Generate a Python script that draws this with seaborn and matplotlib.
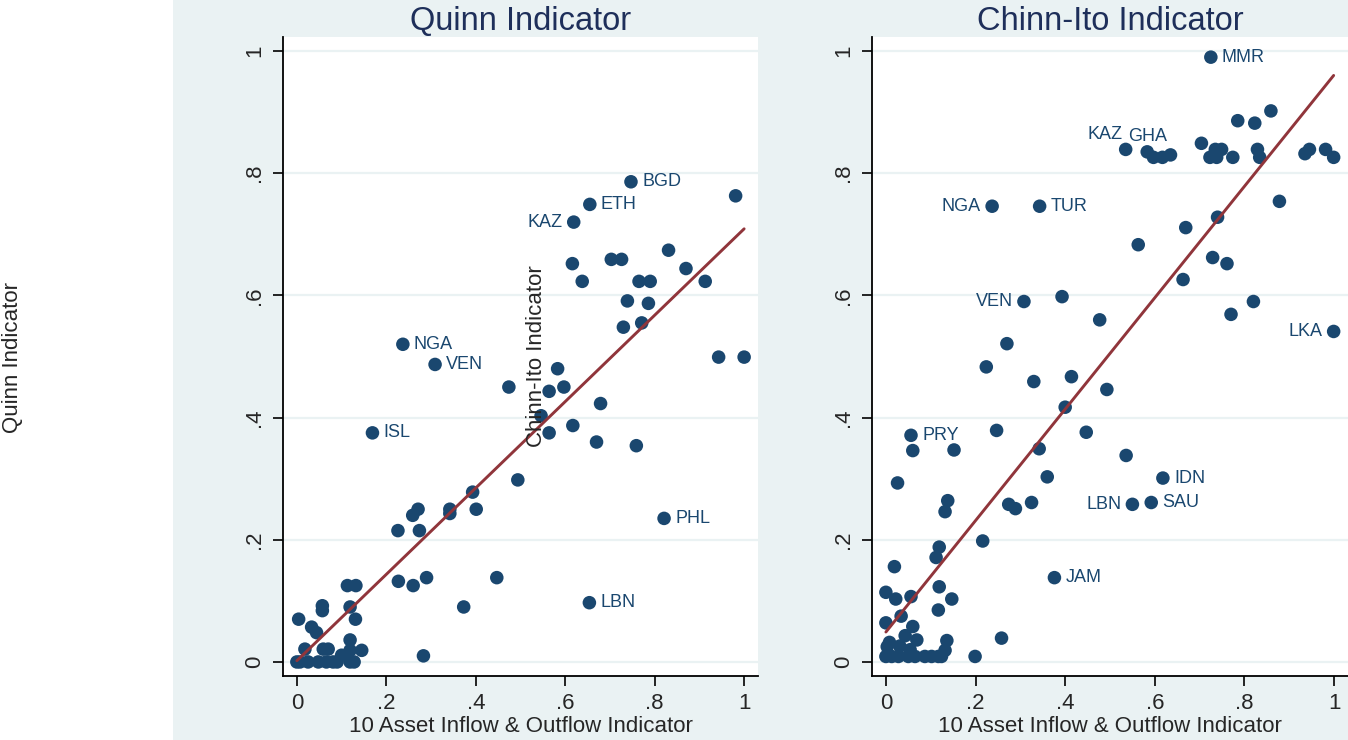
import numpy as np
import pandas as pd
import seaborn as sns
import matplotlib.pyplot as plt
from matplotlib.patches import Rectangle

# Quinn indicator vs 10 asset indicator (left panel)
quinn_x = [0.747, 0.981, 0.655, 0.619, 0.616, 0.638, 0.703, 0.726, 0.831, 0.870,
           0.765, 0.790, 0.913, 0.739, 0.786, 0.730, 0.771, 0.237, 0.309, 0.943,
           1.000, 0.583, 0.474, 0.564, 0.597, 0.679, 0.546, 0.169, 0.564, 0.617,
           0.670, 0.759, 0.494, 0.393, 0.401, 0.342, 0.342, 0.271, 0.259, 0.226,
           0.274, 0.821, 0.227, 0.260, 0.290, 0.447, 0.113, 0.132, 0.654, 0.373,
           0.057, 0.057, 0.119, 0.004, 0.131, 0.033, 0.044, 0.119, 0.283, 0.018,
           0.059, 0.070, 0.100, 0.119, 0.145, 0.000, 0.007, 0.025, 0.048, 0.066,
           0.081, 0.090, 0.119, 0.128]
quinn_y = [0.786, 0.763, 0.749, 0.720, 0.652, 0.623, 0.659, 0.659, 0.674, 0.644,
           0.623, 0.623, 0.623, 0.591, 0.587, 0.548, 0.555, 0.520, 0.487, 0.499,
           0.499, 0.480, 0.450, 0.443, 0.450, 0.423, 0.403, 0.375, 0.375, 0.387,
           0.360, 0.354, 0.298, 0.278, 0.250, 0.250, 0.243, 0.250, 0.240, 0.215,
           0.215, 0.235, 0.132, 0.125, 0.138, 0.138, 0.125, 0.125, 0.097, 0.090,
           0.092, 0.084, 0.090, 0.070, 0.070, 0.057, 0.048, 0.036, 0.010, 0.021,
           0.021, 0.021, 0.011, 0.019, 0.019, 0.000, 0.000, 0.000, 0.000, 0.000,
           0.000, 0.000, 0.000, 0.000]
quinn_labels = {0: 'BGD', 2: 'ETH', 3: 'KAZ', 17: 'NGA', 18: 'VEN', 27: 'ISL',
                41: 'PHL', 48: 'LBN'}
# fitted line (intercept, slope)
quinn_fit = (0.002, 0.707)

# Chinn-Ito indicator vs 10 asset indicator (right panel)
chinn_x = [0.725, 0.859, 0.785, 0.823, 0.535, 0.583, 0.597, 0.617, 0.635, 0.704,
           0.735, 0.749, 0.723, 0.738, 0.774, 0.829, 0.834, 0.935, 0.945, 0.981,
           0.999, 0.237, 0.343, 0.878, 0.740, 0.669, 0.563, 0.729, 0.761, 0.663,
           0.308, 0.393, 0.820, 0.770, 0.477, 0.999, 0.270, 0.224, 0.330, 0.414,
           0.493, 0.400, 0.056, 0.247, 0.447, 0.060, 0.152, 0.342, 0.536, 0.360,
           0.618, 0.026, 0.138, 0.132, 0.274, 0.289, 0.325, 0.550, 0.592, 0.216,
           0.119, 0.112, 0.019, 0.376, 0.119, 0.000, 0.022, 0.056, 0.147, 0.117,
           0.034, 0.000, 0.060, 0.043, 0.069, 0.136, 0.258, 0.008, 0.003, 0.031,
           0.054, 0.132, 0.199, 0.000, 0.013, 0.028, 0.050, 0.065, 0.087, 0.102,
           0.117, 0.124]
chinn_y = [0.990, 0.902, 0.886, 0.882, 0.839, 0.835, 0.826, 0.826, 0.830, 0.849,
           0.839, 0.839, 0.826, 0.826, 0.826, 0.839, 0.826, 0.832, 0.839, 0.839,
           0.826, 0.746, 0.746, 0.754, 0.728, 0.711, 0.683, 0.662, 0.652, 0.626,
           0.590, 0.598, 0.590, 0.569, 0.560, 0.541, 0.521, 0.483, 0.459, 0.467,
           0.446, 0.417, 0.371, 0.379, 0.376, 0.346, 0.347, 0.349, 0.338, 0.303,
           0.301, 0.293, 0.264, 0.246, 0.258, 0.251, 0.261, 0.258, 0.261, 0.198,
           0.188, 0.171, 0.156, 0.138, 0.123, 0.114, 0.103, 0.107, 0.103, 0.085,
           0.075, 0.064, 0.058, 0.043, 0.036, 0.035, 0.039, 0.032, 0.025, 0.026,
           0.020, 0.019, 0.009, 0.009, 0.009, 0.009, 0.009, 0.009, 0.009, 0.009,
           0.009, 0.009]
chinn_labels = {0: 'MMR', 4: 'KAZ', 5: 'GHA', 21: 'NGA', 22: 'TUR', 30: 'VEN',
                35: 'LKA', 42: 'PRY', 50: 'IDN', 57: 'LBN', 58: 'SAU', 63: 'JAM'}
chinn_fit = (0.049, 0.912)

ticks = [0, 0.2, 0.4, 0.6, 0.8, 1]
tick_labels = ['0', '.2', '.4', '.6', '.8', '1']

# where each label sits relative to its marker (offset in points, ha, va)
right_of = ((8, 0), 'left', 'center')
left_of = ((-8, 0), 'right', 'center')
label_place = {
    ('q', 'KAZ'): left_of,
    ('c', 'NGA'): left_of, ('c', 'VEN'): left_of, ('c', 'LKA'): left_of,
    ('c', 'LBN'): left_of,
    ('c', 'KAZ'): ((-2, 11), 'right', 'center'),
    ('c', 'GHA'): ((0, 11), 'center', 'center'),
}

navy = '#1a476f'
title_col = '#1e2f5a'
bg = '#eaf2f3'

sns.set_style('white')
plt.rcParams['font.family'] = ['Liberation Sans', 'DejaVu Sans']

fig = plt.figure(figsize=(13.48, 7.40), dpi=100)
fig.patches.append(Rectangle((173 / 1348, 0), 1, 1, transform=fig.transFigure,
                             facecolor=bg, edgecolor='none', zorder=-10))

ax1 = fig.add_axes([283 / 1348, 64 / 740, 475 / 1348, 639 / 740])
ax2 = fig.add_axes([872 / 1348, 64 / 740, 476 / 1348, 639 / 740])

panels = [(ax1, 'q', quinn_x, quinn_y, quinn_labels, quinn_fit, 'Quinn Indicator'),
          (ax2, 'c', chinn_x, chinn_y, chinn_labels, chinn_fit, 'Chinn-Ito Indicator')]

for ax, key, xs, ys, labs, fit, title in panels:
    df = pd.DataFrame({'x': xs, 'y': ys})
    ax.set_facecolor('white')
    for t in ticks:
        ax.axhline(t, color=bg, lw=1.6, zorder=0)
    sns.scatterplot(data=df, x='x', y='y', ax=ax, color=navy, s=95,
                    edgecolor='none', zorder=3)
    # fitted values over the range of the data
    xr = np.array([min(xs), max(xs)])
    fit_df = pd.DataFrame({'x': xr, 'y': fit[0] + fit[1] * xr})
    sns.lineplot(data=fit_df, x='x', y='y', ax=ax, color='#90353b', lw=2.1,
                 zorder=4)
    for i, name in labs.items():
        off, ha, va = label_place.get((key, name), right_of)
        ax.annotate(name, (xs[i], ys[i]), xytext=off, textcoords='offset points',
                    ha=ha, va=va, fontsize=13, color=navy, zorder=5)
    ax.set_xlim(-0.031, 1.031)
    ax.set_ylim(-0.023, 1.023)
    ax.set_xticks(ticks)
    ax.set_xticklabels(tick_labels)
    ax.set_yticks(ticks)
    ax.set_yticklabels(tick_labels, rotation=90, va='center')
    ax.tick_params(axis='both', length=7, width=1.2, color='black',
                   labelsize=16, direction='out', left=True, bottom=True)
    ax.tick_params(axis='y', pad=6)
    ax.tick_params(axis='x', pad=5)
    for s in ['top', 'right']:
        ax.spines[s].set_visible(False)
    for s in ['left', 'bottom']:
        ax.spines[s].set_color('black')
        ax.spines[s].set_linewidth(1.3)
    ax.set_xlabel('10 Asset Inflow & Outflow Indicator', fontsize=16, labelpad=2)
    ax.set_ylabel('')
    ax.set_title(title, fontsize=23.5, color=title_col, pad=5)

# y-axis titles as they sit in the original layout
fig.text(13 / 1348, 1 - 358 / 740, 'Quinn Indicator', rotation=90,
         ha='center', va='center', fontsize=16)
fig.text(537 / 1348, 1 - 356 / 740, 'Chinn-Ito Indicator', rotation=90,
         ha='center', va='center', fontsize=16, zorder=10)

fig.savefig('out.png', dpi=100)
